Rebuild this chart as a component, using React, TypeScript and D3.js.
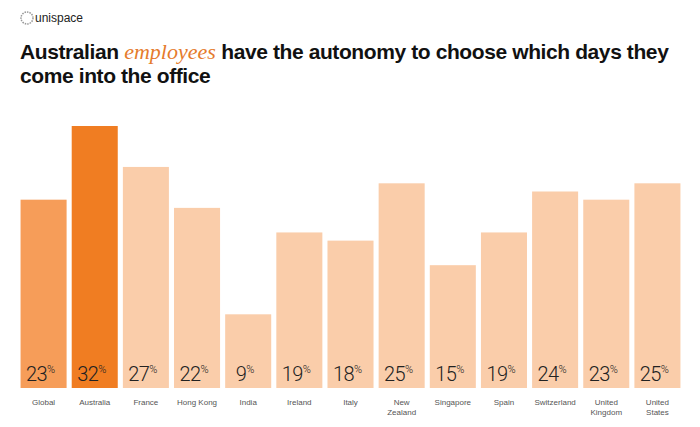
import React from "react";
import * as d3 from "d3";

const categories = ["Global", "Australia", "France", "Hong Kong", "India", "Ireland", "Italy", "New Zealand", "Singapore", "Spain", "Switzerland", "United Kingdom", "United States"];
const labelLines = [["Global"], ["Australia"], ["France"], ["Hong Kong"], ["India"], ["Ireland"], ["Italy"], ["New", "Zealand"], ["Singapore"], ["Spain"], ["Switzerland"], ["United", "Kingdom"], ["United", "States"]];
const values = [23, 32, 27, 22, 9, 19, 18, 25, 15, 19, 24, 23, 25];

const W = 700, H = 427;

export default function App() {
  const x = d3.scaleBand<string>().domain(categories).range([18, 683]).paddingInner(0.1).paddingOuter(0.05);
  const y = d3.scaleLinear().domain([0, 32]).range([388, 126]);
  const color = (c: string) => c === "Australia" ? "#F07D22" : c === "Global" ? "#F69D59" : "#FACDAA";
  const font = "Helvetica, Arial, 'Liberation Sans', sans-serif";
  const light = "Roboto, 'Open Sans', Lato, sans-serif";
  return (
    <svg width={W} height={H} style={{ position: "absolute", left: 0, top: 0, background: "#fff" }}>
      <g>
        <circle cx={27} cy={18} r={6} fill="none" stroke="#999" strokeWidth={1.5} strokeDasharray="1.5 1" />
        <text x={35} y={22} fontFamily={font} fontSize={12} fill="#222">unispace</text>
      </g>
      <text x={20} y={59} fontFamily={font} fontSize={21} fontWeight={700} fill="#111" letterSpacing={-0.4}>
        Australian <tspan fontFamily="'Liberation Serif', 'DejaVu Serif', serif" fontStyle="italic" fontWeight={400} fontSize={22} fill="#E57B2C" letterSpacing={0}>employees</tspan> have the autonomy to choose which days they
      </text>
      <text x={20} y={83} fontFamily={font} fontSize={21} fontWeight={700} fill="#111" letterSpacing={-0.4}>come into the office</text>
      {categories.map((c, i) => {
        const bx = x(c)!;
        const bw = x.bandwidth();
        const cx = bx + bw / 2;
        return (
          <g key={c}>
            <rect x={bx} y={y(values[i])} width={bw} height={y(0) - y(values[i])} fill={color(c)} />
            <text x={cx - 3} y={381} textAnchor="middle" fontFamily={light} fontSize={20} fontWeight={300} fill="#222" letterSpacing={-0.6}>
              {values[i]}<tspan fontSize={11} dy={-8} letterSpacing={0}>%</tspan>
            </text>
            {labelLines[i].map((l, j) => (
              <text key={j} x={cx} y={405 + j * 10} textAnchor="middle" fontFamily={font} fontSize={8} fill="#555">{l}</text>
            ))}
          </g>
        );
      })}
    </svg>
  );
}
